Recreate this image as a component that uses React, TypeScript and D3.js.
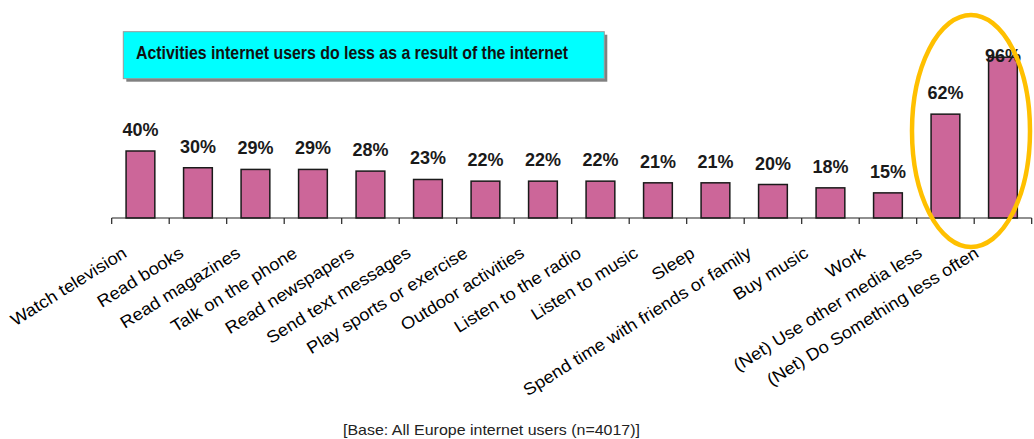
import React from "react";
import * as d3 from "d3";

const categories = [
  "Watch television",
  "Read books",
  "Read magazines",
  "Talk on the phone",
  "Read newspapers",
  "Send text messages",
  "Play sports or exercise",
  "Outdoor activities",
  "Listen to the radio",
  "Listen to music",
  "Sleep",
  "Spend time with friends or family",
  "Buy music",
  "Work",
  "(Net) Use other media less",
  "(Net) Do Something less often",
];
const values = [40, 30, 29, 29, 28, 23, 22, 22, 22, 21, 21, 20, 18, 15, 62, 96];
const title = "Activities internet users do less as a result of the internet";
const footnote = "[Base: All Europe internet users (n=4017)]";

const W = 1034;
const H = 439;
const FONT = "'Liberation Sans', Arial, Helvetica, sans-serif";

export default function App() {
  const x = d3
    .scaleBand<string>()
    .domain(categories)
    .range([111.7, 1031.7])
    .paddingInner(0.5)
    .paddingOuter(0.25);
  const xLab = d3.scalePoint<string>().domain(categories).range([128, 980]);
  const y = d3.scaleLinear().domain([0, 100]).range([218, 50.5]);
  const step = x.step();
  const x0 = x.range()[0];
  const ticks = d3.range(categories.length + 1).map((i) => x0 + i * step);
  const base = y(0);

  return (
    <svg
      width={W}
      height={H}
      style={{ position: "absolute", left: 0, top: 0, background: "#fff" }}
      fontFamily={FONT}
    >
      {/* title box */}
      <rect x={126.3} y={34.7} width={481} height={47} fill="#808080" />
      <rect x={123.3} y={31.7} width={481} height={47} fill="#00FFFF" stroke="#9a9a9a" strokeWidth={1} />
      <text
        x={136}
        y={59}
        fontSize={19}
        fontWeight="bold"
        fill="#111"
        textLength={432}
        lengthAdjust="spacingAndGlyphs"
      >
        {title}
      </text>

      {/* bars */}
      {categories.map((c, i) => {
        const top = y(values[i]);
        return (
          <rect
            key={c}
            x={x(c)}
            y={top}
            width={x.bandwidth()}
            height={base - top}
            fill="#CC6699"
            stroke="#1a1a1a"
            strokeWidth={1.5}
          />
        );
      })}

      {/* value labels */}
      {categories.map((c, i) => {
        const top = y(values[i]);
        const by = Math.max(top - 15, 62);
        return (
          <text
            key={c + "v"}
            x={(x(c) as number) + x.bandwidth() / 2}
            y={by}
            textAnchor="middle"
            fontSize={18}
            fontWeight="bold"
            fill="#1a1a1a"
          >
            {values[i]}%
          </text>
        );
      })}

      {/* axis */}
      <line x1={x0} x2={x0 + step * categories.length} y1={base} y2={base} stroke="#222" strokeWidth={1.2} />
      {ticks.map((t, i) => (
        <line key={"t" + i} x1={t} x2={t} y1={base} y2={base + 6} stroke="#222" strokeWidth={1.2} />
      ))}

      {/* category labels */}
      {categories.map((c) => (
        <text
          key={c + "l"}
          transform={`translate(${xLab(c)},256) rotate(-32) scale(1.08,1)`}
          textAnchor="end"
          fontSize={17}
          fill="#000"
        >
          {c}
        </text>
      ))}

      {/* highlight ellipse */}
      <ellipse cx={971} cy={131} rx={59} ry={116} fill="none" stroke="#FFC000" strokeWidth={4.5} />

      {/* footnote */}
      <text x={343} y={435} fontSize={15} fill="#222" textLength={297} lengthAdjust="spacingAndGlyphs">
        {footnote}
      </text>
    </svg>
  );
}
